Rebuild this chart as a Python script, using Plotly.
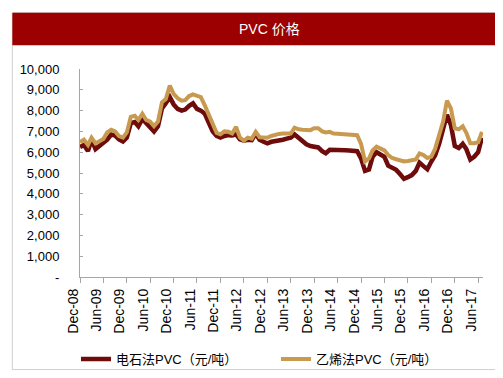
import plotly.graph_objects as go
import pandas as pd

# Monthly observations, starting Dec 2008
start_month = "2008-12-01"
carbide_pvc = [6250, 6350, 6050, 6600, 6150, 6300, 6400, 6600, 6850, 6800,
               6620, 6520, 6700, 7400, 7450, 7250, 7600, 7400, 7250, 7000,
               7250, 8100, 8350, 8650, 8300, 8080, 8000, 8050, 8230, 8350,
               8080, 8000, 7850, 7450, 7000, 6780, 6700, 6780, 6820, 6800,
               6860, 6620, 6550, 6600, 6580, 6900, 6600, 6500, 6430, 6500,
               6520, 6560, 6600, 6650, 6700, 6850, 6700, 6550, 6380, 6300,
               6250, 6230, 6050, 5950, 6120, 6100, 6090, 6080, 6090, 6080,
               6070, 6050, 5700, 5100, 5170, 5780, 6000, 5900, 5780, 5350,
               5250, 5150, 4950, 4720, 4800, 4900, 5100, 5500, 5330, 5180,
               5550, 5850, 6400, 7090, 7800, 7300, 6300, 6200, 6400, 6150,
               5650, 5780, 6000, 6700]
ethylene_pvc = [6480, 6600, 6350, 6700, 6420, 6550, 6630, 6950, 7080, 7000,
                6780, 6700, 6950, 7700, 7750, 7550, 7850, 7550, 7470, 7250,
                7470, 8400, 8550, 9200, 8800, 8600, 8480, 8500, 8700, 8780,
                8720, 8650, 8250, 7780, 7300, 6930, 6860, 7000, 6980, 6900,
                7220, 6700, 6550, 6700, 6650, 6980, 6720, 6700, 6700, 6780,
                6850, 6880, 6900, 6880, 6900, 7180, 7100, 7080, 7050, 7060,
                7150, 7150, 7000, 6950, 6980, 6900, 6890, 6880, 6890, 6880,
                6870, 6820, 6400, 5550, 5700, 6090, 6270, 6200, 6090, 5860,
                5720, 5660, 5620, 5560, 5580, 5620, 5650, 5940, 5860, 5720,
                5790, 6170, 6860, 7470, 8480, 8100, 7150, 7100, 7250, 6930,
                6430, 6430, 6480, 6980]
series_names = ["电石法PVC（元/吨）", "乙烯法PVC（元/吨）"]
x_tick_labels = ["Dec-08", "Jun-09", "Dec-09", "Jun-10", "Dec-10", "Jun-11",
                 "Dec-11", "Jun-12", "Dec-12", "Jun-13", "Dec-13", "Jun-14",
                 "Dec-14", "Jun-15", "Dec-15", "Jun-16", "Dec-16", "Jun-17"]
y_tick_values = [0, 1000, 2000, 3000, 4000, 5000, 6000, 7000, 8000, 9000, 10000]
y_tick_labels = ["-", "1,000", "2,000", "3,000", "4,000", "5,000", "6,000",
                 "7,000", "8,000", "9,000", "10,000"]

dates = pd.date_range(start_month, periods=len(carbide_pvc), freq="MS")
tick_dates = pd.date_range(start_month, periods=len(x_tick_labels), freq="6MS")

font_family = "Liberation Sans, Arial, Noto Sans CJK SC, sans-serif"

# plot area in pixels
L, R, T, B = 70, 475, 61, 279
PW, PH = R - L, B - T
def px(x):
    return (x - L) / PW
def py(y):
    return (B - y) / PH

fig = go.Figure()
fig.add_trace(go.Scatter(x=dates, y=carbide_pvc, name=series_names[0], mode="lines",
                         line=dict(color="#6E0B0B", width=4.5)))
fig.add_trace(go.Scatter(x=dates, y=ethylene_pvc, name=series_names[1], mode="lines",
                         line=dict(color="#C89A4F", width=4)))

fig.update_layout(
    width=503, height=378,
    margin=dict(l=L, r=503 - R, t=T, b=378 - B),
    paper_bgcolor="white", plot_bgcolor="white",
    font=dict(family=font_family, color="#000000", size=13),
    showlegend=True,
    legend=dict(orientation="h", x=-0.01, xanchor="left", y=py(365), yanchor="middle",
                font=dict(size=13, family=font_family),
                entrywidth=155, entrywidthmode="pixels",
                bgcolor="rgba(0,0,0,0)"),
    xaxis=dict(
        type="date",
        range=[dates[0], dates[-1] + pd.Timedelta(days=8)],
        tickvals=tick_dates, ticktext=x_tick_labels, tickangle=-90,
        tickfont=dict(size=14),
        ticklabelshift=-7,
        showline=True, linecolor="#A6A6A6", linewidth=1,
        ticks="outside", ticklen=5, tickcolor="#A6A6A6",
        showgrid=False, zeroline=False,
    ),
    yaxis=dict(
        range=[0, 10000],
        tickvals=y_tick_values, ticktext=y_tick_labels,
        tickfont=dict(size=13),
        showline=True, linecolor="#A6A6A6", linewidth=1,
        ticks="inside", ticklen=3, tickcolor="#A6A6A6",
        ticklabelstandoff=17,
        showgrid=False, zeroline=False,
    ),
    shapes=[
        dict(type="rect", xref="paper", yref="paper",
             x0=px(2), x1=px(500), y0=py(376), y1=py(2),
             line=dict(color="#D0D0D0", width=1), fillcolor="rgba(0,0,0,0)", layer="below"),
        dict(type="rect", xref="paper", yref="paper",
             x0=px(2), x1=px(501), y0=py(36), y1=py(2),
             fillcolor="#9C0000", line=dict(width=0), layer="below"),
    ],
    annotations=[
        dict(text="PVC 价格", xref="paper", yref="paper",
             x=px(260), y=py(19), xanchor="center", yanchor="middle",
             showarrow=False, font=dict(color="white", size=14, family=font_family)),
    ],
)

fig.write_html("out.html")
